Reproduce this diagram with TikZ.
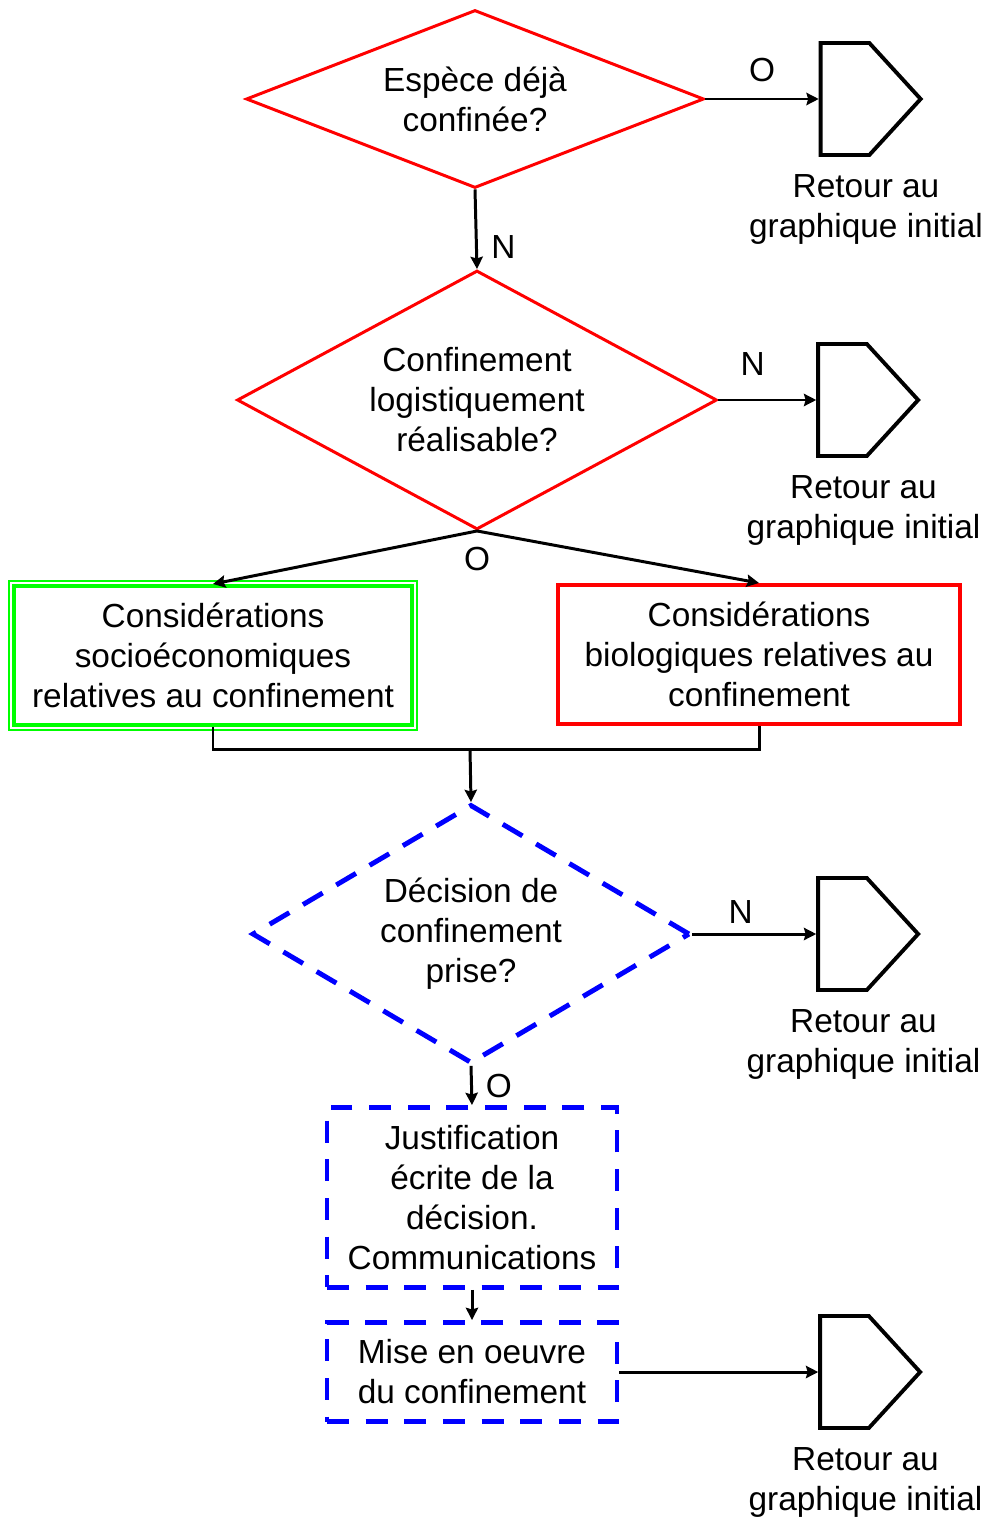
\documentclass[tikz,border=0pt]{standalone}
\usepackage{fontspec}
\setmainfont{Liberation Sans}
\usetikzlibrary{shapes.geometric, shapes.symbols, arrows.meta, positioning}
\tikzstyle{decision} = [diamond, draw=red, line width=1.7pt, inner sep=0pt, align=center]
\tikzstyle{decisionb} = [diamond, draw=blue, line width=2.8pt, dash pattern=on 13pt off 9pt, inner sep=0pt, align=center]
\tikzstyle{socio} = [rectangle, draw=green, line width=2.3pt, minimum width=7.96cm, minimum height=2.78cm, align=center, inner sep=0pt]
\tikzstyle{biobox} = [rectangle, draw=red, line width=2.3pt, minimum width=8.04cm, minimum height=2.78cm, align=center, inner sep=0pt]
\tikzstyle{process} = [rectangle, draw=blue, line width=2.8pt, dash pattern=on 12.5pt off 9.5pt, minimum width=5.8cm, align=center, inner sep=0pt]
\tikzstyle{retour} = [signal, signal to=east, signal pointer angle=95, draw=black, line width=2.2pt, minimum width=2cm, minimum height=2.24cm, inner sep=0pt]
\tikzstyle{retourtxt} = [align=center, inner sep=0pt, xshift=0.42cm]
\tikzstyle{yn} = [inner sep=0pt]
\tikzstyle{arrow} = [line width=1.7pt,->,>={Stealth[length=7pt,width=7pt,inset=1pt]}]
\tikzstyle{line} = [line width=1.7pt]

\begin{document}
\begin{tikzpicture}[x=0.02cm, y=-0.02cm, font=\fontsize{19}{22.8}\selectfont]
\useasboundingbox (0,0) rectangle (989,1517);
% questions et cases
\node (dec1) [decision, aspect=2.57, minimum width=9.16cm, minimum height=3.56cm] at (475,99) {Espèce déjà\\confinée?};
\node (dec2) [decision, aspect=1.85, minimum width=9.6cm, minimum height=5.18cm] at (477,400) {Confinement\\logistiquement\\réalisable?};
\node (soc) [socio] at (213,655.5) {Considérations\\socioéconomiques\\relatives au confinement};
\node (bio) [biobox] at (759,654.5) {Considérations\\biologiques relatives au\\confinement};
\node (dec3) [decisionb, aspect=1.69, minimum width=8.76cm, minimum height=5.18cm] at (471,934) {Décision de\\confinement\\prise?};
\node (just) [process, minimum height=3.6cm] at (472,1197.5) {Justification\\écrite de la\\décision.\\Communications};
\node (mise) [process, minimum height=1.98cm] at (472,1372) {Mise en oeuvre\\du confinement};
\draw [green, line width=0.6pt] ([shift={(-0.06cm,0.06cm)}]soc.north west) rectangle ([shift={(0.06cm,-0.06cm)}]soc.south east);

% retours
\node (ret1) [retour] at (845,99) {};
\node (txt1) [retourtxt, below=0.34cm of ret1] {Retour au\\graphique initial};
\node (ret2) [retour] at (842.5,400) {};
\node (txt2) [retourtxt, below=0.34cm of ret2] {Retour au\\graphique initial};
\node (ret3) [retour] at (842.5,934) {};
\node (txt3) [retourtxt, below=0.34cm of ret3] {Retour au\\graphique initial};
\node (ret4) [retour] at (844.5,1372) {};
\node (txt4) [retourtxt, below=0.34cm of ret4] {Retour au\\graphique initial};

% liens
\coordinate (join) at (470,749);
\draw [arrow] (dec1.east) -- node[yn, above=0.31cm] {O} (ret1.west);
\draw [arrow] (dec1.south) -- node[yn, pos=0.72, right=0.27cm] {N} (dec2.north);
\draw [arrow] (dec2.east) -- node[yn, pos=0.35, above=0.46cm] {N} (ret2.west);
\draw [arrow] (dec2.south) node[yn, below=0.3cm] {O} -- (soc.north);
\draw [arrow] (dec2.south) -- (bio.north);
\draw [line] (soc.south) |- (join) -| (bio.south);
\draw [arrow] (join) -- (dec3.north);
\draw [arrow] (dec3.east) -- node[yn, pos=0.39, above=0.18cm] {N} (ret3.west);
\draw [arrow] (dec3.south) -- node[yn, right=0.26cm] {O} (just.north);
\draw [arrow] (just.south) -- (mise.north);
\draw [arrow] (mise.east) -- (ret4.west);
\end{tikzpicture}
\end{document}
